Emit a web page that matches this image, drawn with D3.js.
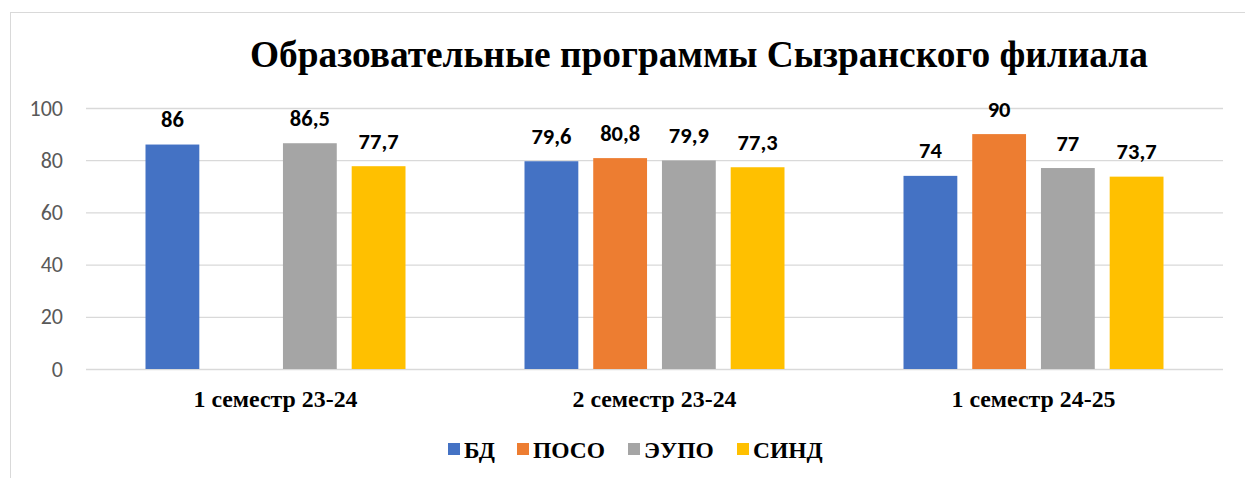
<!DOCTYPE html>
<html>
<head>
<meta charset="utf-8">
<script src="https://cdn.jsdelivr.net/npm/d3@7"></script>
<style>
  body { margin: 0; background: #fff; }
</style>
</head>
<body>
<div id="chart"></div>
<script>
// chart data
const categories = ["1 семестр 23-24", "2 семестр 23-24", "1 семестр 24-25"];
const seriesNames = ["БД", "ПОСО", "ЭУПО", "СИНД"];
const seriesColors = ["#4472C4", "#ED7D31", "#A5A5A5", "#FFC000"];
const bdValues = [86, 79.6, 74];
const posoValues = [null, 80.8, 90];
const eupoValues = [86.5, 79.9, 77];
const sindValues = [77.7, 77.3, 73.7];
const yTicks = [0, 20, 40, 60, 80, 100];

const allSeries = [bdValues, posoValues, eupoValues, sindValues];

const serif = "'Liberation Serif', Tinos, 'Times New Roman', serif";
const sans = "Carlito, Lato, 'Open Sans', sans-serif";

const width = 1245, height = 478;
const plot = { left: 86, right: 1223, top: 108, bottom: 369 };

const svg = d3.select("#chart")
    .append("svg")
    .attr("width", width)
    .attr("height", height);

// outer frame
svg.append("rect")
    .attr("x", 10.5).attr("y", 12.5)
    .attr("width", 1250).attr("height", 500)
    .attr("fill", "#fff")
    .attr("stroke", "#d9d9d9");

svg.append("text")
    .attr("x", 699).attr("y", 67)
    .attr("text-anchor", "middle")
    .attr("textLength", 898)
    .attr("lengthAdjust", "spacingAndGlyphs")
    .style("font-family", serif)
    .style("font-weight", "bold")
    .style("font-size", "38px")
    .text("Образовательные программы Сызранского филиала");

const y = d3.scaleLinear().domain([0, 100]).range([plot.bottom, plot.top]);

const x0 = d3.scaleBand()
    .domain(categories)
    .range([plot.left, plot.right]);

const x1 = d3.scaleBand()
    .domain(seriesNames)
    .range([59.5, x0.bandwidth() - 59.5])
    .paddingInner(0.217);

// gridlines
svg.append("g")
    .selectAll("line")
    .data(yTicks)
    .join("line")
    .attr("x1", plot.left).attr("x2", plot.right)
    .attr("y1", d => y(d) + 0.5).attr("y2", d => y(d) + 0.5)
    .attr("stroke", "#d9d9d9")
    .attr("stroke-width", 1.3);

// y axis labels
svg.append("g")
    .selectAll("text")
    .data(yTicks)
    .join("text")
    .attr("x", 63)
    .attr("y", d => y(d) + 7.5)
    .attr("text-anchor", "end")
    .style("font-family", sans)
    .style("font-size", "22px")
    .attr("fill", "#595959")
    .text(d => d);

// bars
const barData = [];
categories.forEach((c, i) => {
    seriesNames.forEach((s, j) => {
        if (allSeries[j][i] != null) barData.push({ cat: c, name: s, color: seriesColors[j], value: allSeries[j][i] });
    });
});

svg.append("g")
    .selectAll("rect")
    .data(barData)
    .join("rect")
    .attr("x", d => x0(d.cat) + x1(d.name))
    .attr("y", d => y(d.value))
    .attr("width", x1.bandwidth())
    .attr("height", d => y(0) - y(d.value))
    .attr("fill", d => d.color);

// value labels
svg.append("g")
    .selectAll("text")
    .data(barData)
    .join("text")
    .attr("x", d => x0(d.cat) + x1(d.name) + x1.bandwidth() / 2)
    .attr("y", d => y(d.value) - 17.5)
    .attr("text-anchor", "middle")
    .style("font-family", sans)
    .style("font-weight", "bold")
    .style("font-size", "22.5px")
    .attr("fill", "#000")
    .text(d => String(d.value).replace(".", ","));

// category labels
svg.append("g")
    .selectAll("text")
    .data(categories)
    .join("text")
    .attr("x", d => x0(d) + x0.bandwidth() / 2)
    .attr("y", 407)
    .attr("text-anchor", "middle")
    .attr("textLength", 164)
    .attr("lengthAdjust", "spacingAndGlyphs")
    .style("font-family", serif)
    .style("font-weight", "bold")
    .style("font-size", "23px")
    .text(d => d);

// legend
const legendX = [448, 517, 628, 737];
const legend = svg.append("g")
    .selectAll("g")
    .data(seriesNames)
    .join("g")
    .attr("transform", (d, i) => `translate(${legendX[i]}, 443)`);

legend.append("rect")
    .attr("width", 12).attr("height", 12)
    .attr("fill", (d, i) => seriesColors[i]);

legend.append("text")
    .attr("x", 16).attr("y", 15)
    .style("font-family", serif)
    .style("font-weight", "bold")
    .style("font-size", "23.5px")
    .text(d => d);
</script>
</body>
</html>
